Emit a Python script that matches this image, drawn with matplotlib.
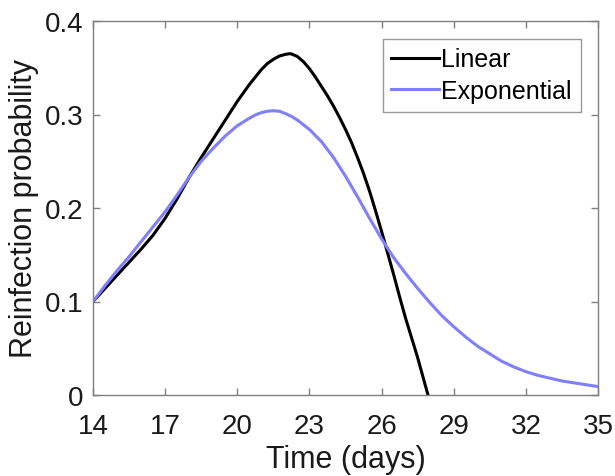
import numpy as np
import matplotlib
matplotlib.use("Agg")
import matplotlib.pyplot as plt

plt.rcParams['font.family'] = ['Liberation Sans', 'DejaVu Sans']

# values
t_linear = [14.0, 14.5, 15.0, 15.5, 16.0, 16.5, 17.0, 17.5, 18.0, 18.5, 19.0,
            19.5, 20.0, 20.5, 21.0, 21.25, 21.5, 21.75, 22.0, 22.16, 22.25, 22.5,
            22.75, 23.0, 23.25, 23.5, 23.75, 24.0, 24.25, 24.5, 24.75, 25.0,
            25.25, 25.5, 25.75, 26.0, 26.25, 26.5, 26.75, 27.0, 27.5, 27.93]
p_linear = [0.100, 0.114, 0.128, 0.142, 0.156, 0.171, 0.189, 0.210, 0.233, 0.254, 0.274,
            0.294, 0.314, 0.332, 0.348, 0.3545, 0.359, 0.3625, 0.3643, 0.365, 0.3648, 0.362,
            0.3565, 0.349, 0.340, 0.330, 0.320, 0.309, 0.297, 0.284, 0.270, 0.254,
            0.237, 0.218, 0.197, 0.175, 0.152, 0.129, 0.105, 0.082, 0.040, 0.000]

t_expo = [14.0, 14.5, 15.0, 15.5, 16.0, 16.5, 17.0, 17.5, 18.0, 18.5, 19.0, 19.5,
          20.0, 20.5, 20.75, 21.0, 21.25, 21.5, 21.75, 22.0, 22.25, 22.5, 23.0, 23.5,
          24.0, 24.5, 25.0, 25.5, 26.0, 26.5, 27.0, 27.5, 28.0, 28.5, 29.0, 29.5,
          30.0, 30.5, 31.0, 31.5, 32.0, 32.5, 33.0, 33.5, 34.0, 34.5, 35.0]
p_expo = [0.100, 0.117, 0.133, 0.148, 0.164, 0.180, 0.196, 0.214, 0.233, 0.250, 0.264, 0.277,
          0.288, 0.296, 0.2995, 0.302, 0.3035, 0.304, 0.3035, 0.301, 0.298, 0.294, 0.284, 0.271,
          0.254, 0.234, 0.212, 0.189, 0.167, 0.147, 0.130, 0.114, 0.099, 0.085, 0.073, 0.062,
          0.052, 0.044, 0.036, 0.030, 0.025, 0.021, 0.018, 0.015, 0.013, 0.011, 0.009]

x_ticks = [14, 17, 20, 23, 26, 29, 32, 35]
y_ticks = [0, 0.1, 0.2, 0.3, 0.4]
y_labels = ['0', '0.1', '0.2', '0.3', '0.4']

fig = plt.figure(figsize=(6.15, 4.77), dpi=100)
ax = fig.add_axes([93 / 615, 1 - 396 / 477, 505 / 615, 374 / 477])

ax.plot(t_linear, p_linear, color='black', lw=2.2, label='Linear')
ax.plot(t_expo, p_expo, color='#7f7fff', lw=2.2, label='Exponential')

ax.set_xlim(14, 35)
ax.set_ylim(0, 0.4)
ax.set_xticks(x_ticks)
ax.set_yticks(y_ticks)
ax.set_yticklabels(y_labels)

gray = '#808080'
txt = '#1a1a1a'
for s in ax.spines.values():
    s.set_color(gray)
    s.set_linewidth(1.0)
ax.tick_params(direction='in', length=5, width=1.0, color=gray,
               labelsize=20, labelcolor=txt, top=True, right=True)
ax.tick_params(axis='x', pad=13)
ax.tick_params(axis='y', pad=7)

ax.set_xlabel('Time (days)', fontsize=22, color=txt)
ax.set_ylabel('Reinfection probability', fontsize=22, color=txt)
ax.xaxis.set_label_coords(0.5, -0.131)
ax.yaxis.set_label_coords(-0.106, 0.5)

leg = ax.legend(loc='upper right', fontsize=18, frameon=True, fancybox=False,
                edgecolor=gray, handlelength=1.9, handletextpad=0.1,
                borderaxespad=0.7, borderpad=0.35, labelspacing=0.3)
leg.get_frame().set_linewidth(1.0)

fig.savefig('out.png', dpi=100)
